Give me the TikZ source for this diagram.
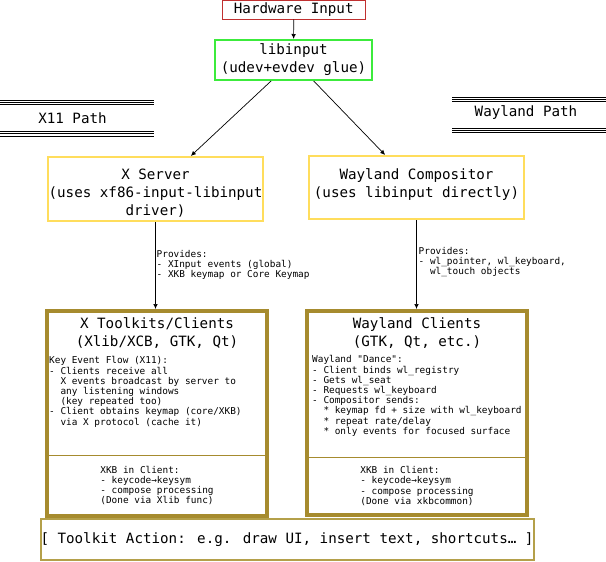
\documentclass[tikz,border=0pt]{standalone}
\usepackage{fontspec}
\setmainfont{DejaVu Sans Mono}[Ligatures=TeXOff]
\usetikzlibrary{positioning,arrows.meta}

\definecolor{hwred}{HTML}{C03030}
\definecolor{libgreen}{HTML}{3CEB3C}
\definecolor{srvyellow}{HTML}{FFDD5C}
\definecolor{cligold}{HTML}{A68B2E}
\definecolor{actgold}{HTML}{B4A04A}

\newcommand{\ind}{\hphantom{00}}

\begin{document}
\begin{tikzpicture}[x=1pt,y=-1pt,
    big/.style={font=\fontsize{14.2}{18}\selectfont},
    small/.style={font=\fontsize{9.4}{10.2}\selectfont}]

        \useasboundingbox (0,0) rectangle (606,562);

        % path banners
        \draw[line width=0.9pt] (0,100) -- (154,100) (0,102.2) -- (154,102.2) (0,104.4) -- (154,104.4);
        \draw[line width=0.9pt] (0,131.6) -- (154,131.6) (0,133.8) -- (154,133.8) (0,136) -- (154,136);
        \draw[line width=0.9pt] (452,97) -- (606,97) (452,99.2) -- (606,99.2) (452,101.4) -- (606,101.4);
        \draw[line width=0.9pt] (452,128) -- (606,128) (452,130.2) -- (606,130.2) (452,132.4) -- (606,132.4);
        \node[big] (x11path) at (72.5,118) {X11 Path};
        \node[big] (wlpath)  at (526,113)  {Wayland Path};

        \begin{scope}[every node/.style={draw,inner sep=0,big}]
          \node[draw=actgold,line width=2pt,minimum width=484pt,minimum height=41pt] (action) at (287,539.5) {[ Toolkit Action: e.g. draw UI, insert text, shortcuts… ]};
          \node[draw=hwred,line width=1pt,minimum width=142.5pt,minimum height=18.5pt] (hw) at (293.75,9.75) {Hardware Input};
          \node[draw=libgreen,line width=2pt,minimum width=157pt,minimum height=40pt,align=center] (libinput) at (293.5,60) {libinput\\(udev+evdev glue)};
          \node[draw=srvyellow,line width=2pt,minimum width=215pt,minimum height=64pt] (xserver) at (155.5,189)   {};
          \node[draw=srvyellow,line width=2pt,minimum width=215pt,minimum height=63pt] (wlcomp)  at (416.5,187.5) {};
          \node[draw=cligold,line width=1pt,minimum width=220pt,minimum height=61pt,small,align=left] (xkbx) at (157,485.5) {XKB in Client:\\- keycode→keysym\\- compose processing\\(Done via Xlib func)};
          \node[draw=cligold,line width=1pt,minimum width=220pt,minimum height=58pt,small,align=left] (xkbw) at (417,486)   {XKB in Client:\\- keycode→keysym\\- compose processing\\(Done via xkbcommon)};
          \node[draw=cligold,line width=4pt,minimum width=220pt,minimum height=205pt] (xcl) at (157,413.5) {};
          \node[draw=cligold,line width=4pt,minimum width=220pt,minimum height=204pt] (wcl) at (417,413)   {};
        \end{scope}

        \begin{scope}[every node/.style={inner sep=0,align=center,big}]
          \node[below=12.8pt of xserver.north] (xserver-t) {X Server\\(uses xf86-input-libinput\\driver)};
          \node[below=13pt of wlcomp.north]    (wlcomp-t)  {Wayland Compositor\\(uses libinput directly)};
          \node[below=8.5pt of xcl.north]      (xcl-t)     {X Toolkits/Clients\\(Xlib/XCB, GTK, Qt)};
          \node[below=8pt of wcl.north]        (wcl-t)     {Wayland Clients\\(GTK, Qt, etc.)};
        \end{scope}

        \begin{scope}[every node/.style={inner sep=0,align=left,small,anchor=north west}]
          \node (xprov) at (156.5,250.2) {Provides:\\- XInput events (global)\\- XKB keymap or Core Keymap};
          \node (wprov) at (418.5,247)   {Provides:\\- wl\_pointer, wl\_keyboard,\\\ind wl\_touch objects};
          \node (xflow) at (49,356.5)    {Key Event Flow (X11):\\- Clients receive all\\\ind X events broadcast by server to\\\ind any listening windows\\\ind (key repeated too)\\- Client obtains keymap (core/XKB)\\\ind via X protocol (cache it)};
          \node (wdance) at (312,355.5)  {Wayland "Dance":\\- Client binds wl\_registry\\- Gets wl\_seat\\- Requests wl\_keyboard\\- Compositor sends:\\\ind * keymap fd + size with wl\_keyboard\\\ind * repeat rate/delay\\\ind * only events for focused surface};
        \end{scope}

        \begin{scope}[every edge/.style={draw,line width=0.7pt,-{Latex[length=5pt,width=4.5pt]}}]
          \path (hw)            edge (libinput);
          \path (libinput)      edge (xserver);
          \path (libinput)      edge (wlcomp);
          \path (xserver.south) edge (xserver.south |- xcl.north);
          \path (wlcomp.south)  edge (wlcomp.south |- wcl.north);
        \end{scope}

      \end{tikzpicture}
\end{document}
